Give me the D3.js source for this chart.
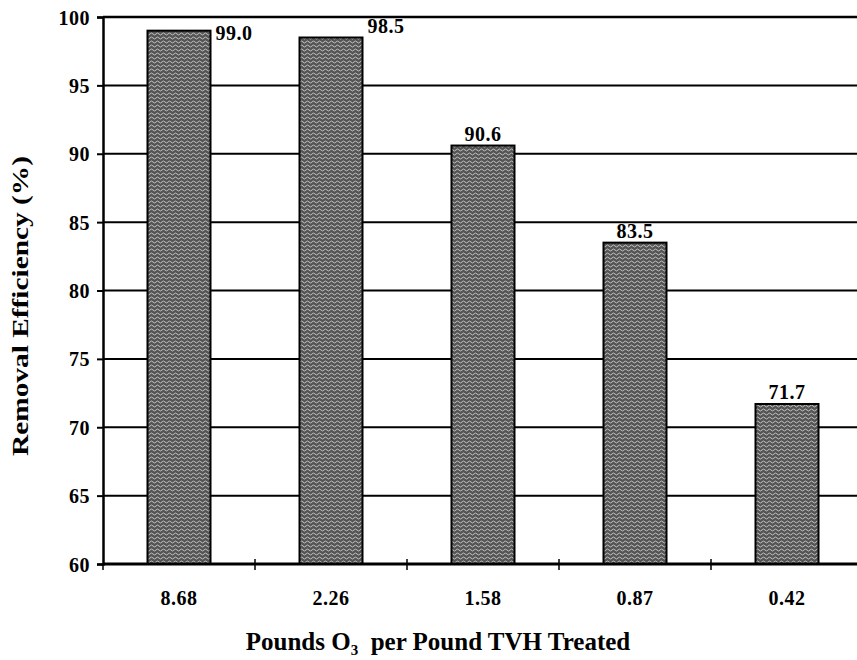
<!DOCTYPE html>
<html>
<head>
<meta charset="utf-8">
<script src="https://cdn.jsdelivr.net/npm/d3@7"></script>
<style>
  body { margin: 0; background: #fff; }
  text { font-family: "Liberation Serif", "DejaVu Serif", serif; font-weight: bold; fill: #000; }
</style>
</head>
<body>
<div id="chart"></div>
<script>
// data
const doses = ["8.68", "2.26", "1.58", "0.87", "0.42"];
const efficiency = [99.0, 98.5, 90.6, 83.5, 71.7];
const yTicks = [60, 65, 70, 75, 80, 85, 90, 95, 100];

const width = 857, height = 660;
const margin = {top: 17, left: 103, bottom: 96};
const plotRight = 863; // the scan cuts the plot off at the right

const svg = d3.select("#chart").append("svg")
    .attr("width", width)
    .attr("height", height);

// stippled grey texture for the bars
const defs = svg.append("defs");
const pat = defs.append("pattern")
    .attr("id", "stipple")
    .attr("patternUnits", "userSpaceOnUse")
    .attr("width", 6)
    .attr("height", 4);
pat.append("rect").attr("width", 6).attr("height", 4).attr("fill", "#555");
pat.append("path")
    .attr("d", "M0,2 q1.5,-2 3,0 t3,0")
    .attr("fill", "none")
    .attr("stroke", "#cfcfcf")
    .attr("stroke-width", 0.9);

const x = d3.scaleBand()
    .domain(doses)
    .range([margin.left, plotRight])
    .paddingInner(0)
    .paddingOuter(0);

const y = d3.scaleLinear()
    .domain([60, 100])
    .range([height - margin.bottom, margin.top]);

const barW = 63;

// horizontal gridlines
svg.append("g")
    .selectAll("line")
    .data(yTicks.filter(d => d > 60))
    .enter()
    .append("line")
    .attr("x1", margin.left)
    .attr("x2", width)
    .attr("y1", d => y(d))
    .attr("y2", d => y(d))
    .attr("stroke", "#000")
    .attr("stroke-width", d => d === 100 ? 2.5 : 2);

// y axis
const yAxis = svg.append("g")
    .attr("transform", "translate(" + margin.left + ",0)")
    .call(d3.axisLeft(y).tickValues(yTicks).tickSize(6).tickPadding(7));
yAxis.select(".domain").attr("stroke-width", 2.5);
yAxis.selectAll(".tick line").attr("stroke-width", 2);
yAxis.selectAll("text")
    .attr("font-size", "20px")
    .attr("font-family", null)
    .attr("letter-spacing", "0.5px")
    .attr("dy", "0.35em");

// bars
svg.append("g")
    .selectAll("rect")
    .data(efficiency)
    .enter()
    .append("rect")
    .attr("x", (d, i) => x(doses[i]) + x.bandwidth() / 2 - barW / 2)
    .attr("y", d => y(d))
    .attr("width", barW)
    .attr("height", d => y(60) - y(d))
    .attr("fill", "url(#stipple)")
    .attr("stroke", "#000")
    .attr("stroke-width", 2);

// value labels: the two tall bars get theirs at the top right
svg.append("g")
    .selectAll("text")
    .data(efficiency)
    .enter()
    .append("text")
    .attr("font-size", "20px")
    .attr("letter-spacing", "0.5px")
    .attr("x", (d, i) => i < 2 ? x(doses[i]) + x.bandwidth() / 2 + barW / 2 + 5 : x(doses[i]) + x.bandwidth() / 2)
    .attr("y", (d, i) => i === 0 ? y(d) + 9 : y(d) - 5)
    .attr("text-anchor", (d, i) => i < 2 ? "start" : "middle")
    .text(d => d.toFixed(1));

// x axis
const xAxisY = y(60);
svg.append("line")
    .attr("x1", margin.left)
    .attr("x2", width)
    .attr("y1", xAxisY)
    .attr("y2", xAxisY)
    .attr("stroke", "#000")
    .attr("stroke-width", 3);

const bounds = doses.map(d => x(d));
svg.append("g")
    .selectAll("line")
    .data(bounds)
    .enter()
    .append("line")
    .attr("x1", d => d)
    .attr("x2", d => d)
    .attr("y1", (d, i) => i === 0 ? xAxisY : xAxisY - 5)
    .attr("y2", xAxisY + 6)
    .attr("stroke", "#000")
    .attr("stroke-width", 1.5);

svg.append("g")
    .selectAll("text")
    .data(doses)
    .enter()
    .append("text")
    .attr("x", d => x(d) + x.bandwidth() / 2)
    .attr("y", xAxisY + 41)
    .attr("text-anchor", "middle")
    .attr("font-size", "20px")
    .attr("letter-spacing", "0.5px")
    .text(d => d);

// axis titles
const xt = svg.append("text")
    .attr("x", 438)
    .attr("y", 650)
    .attr("text-anchor", "middle")
    .attr("font-size", "25px");
xt.append("tspan").text("Pounds O");
xt.append("tspan").attr("font-size", "15px").attr("dy", 5).text("3");
xt.append("tspan").attr("dy", -5).text("\u00a0\u00a0per Pound TVH Treated");

svg.append("text")
    .attr("transform", "translate(28,306) rotate(-90)")
    .attr("text-anchor", "middle")
    .attr("font-size", "24px")
    .attr("textLength", 300)
    .attr("lengthAdjust", "spacingAndGlyphs")
    .text("Removal Efficiency (%)");
</script>
</body>
</html>
